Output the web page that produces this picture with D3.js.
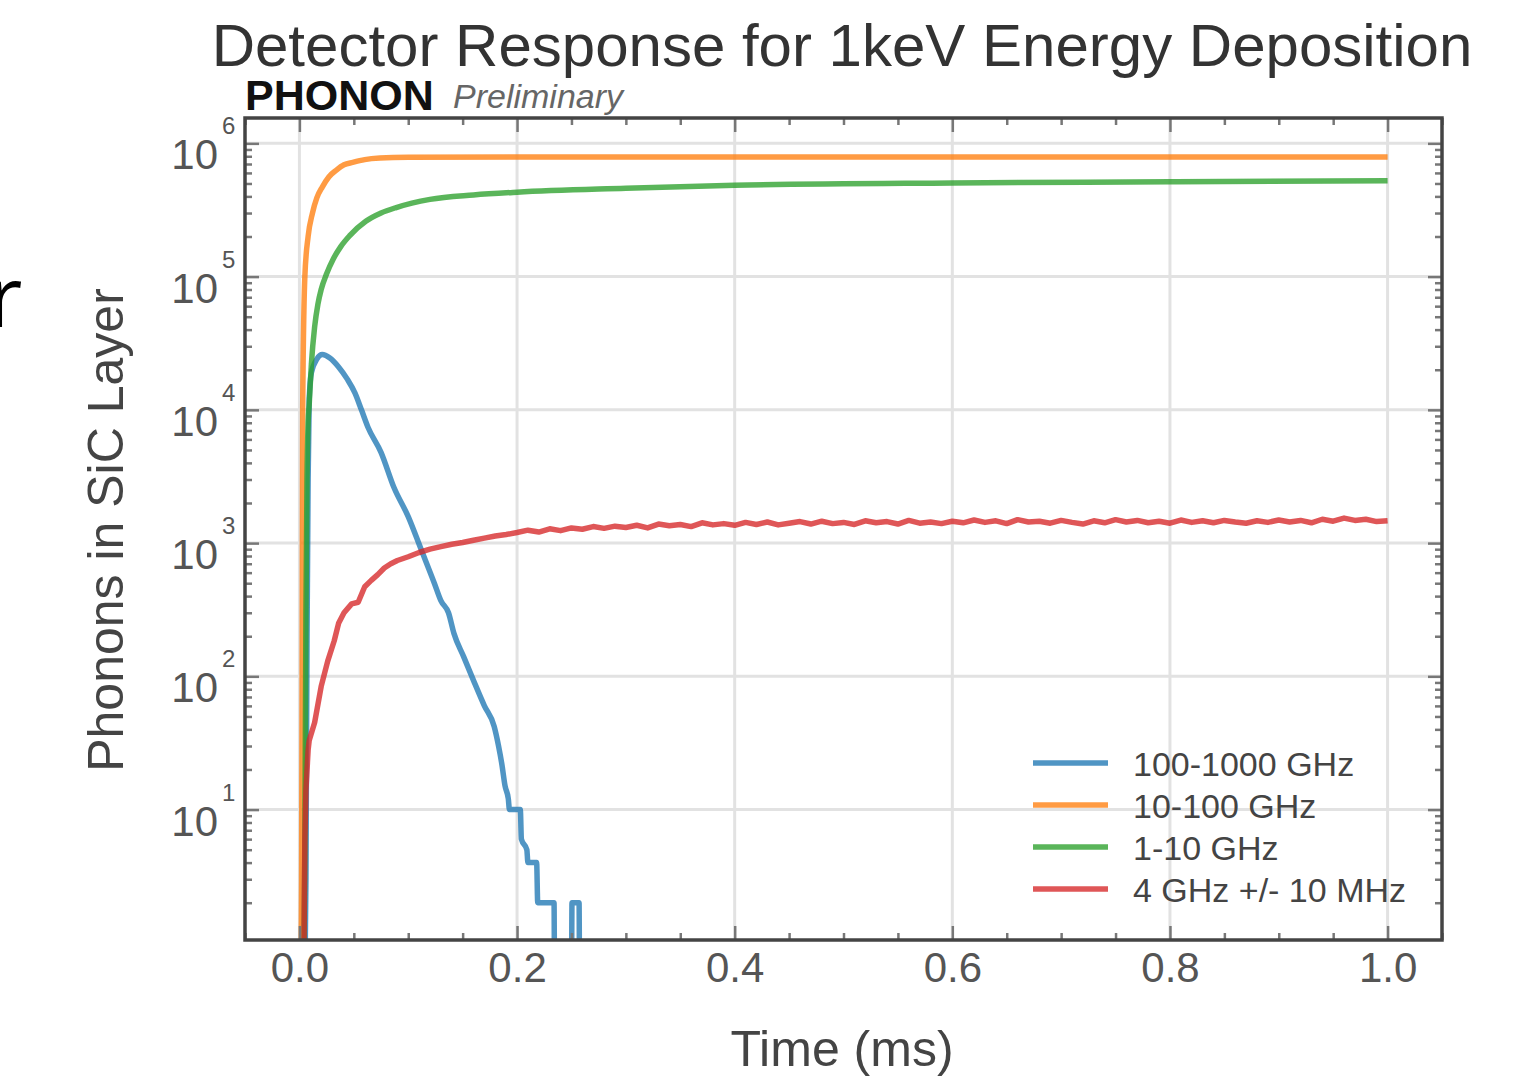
<!DOCTYPE html>
<html>
<head>
<meta charset="utf-8">
<script src="https://cdn.jsdelivr.net/npm/d3@7"></script>
<style>
  html, body { margin: 0; padding: 0; background: #fff; }
  svg { display: block; font-family: "Liberation Sans", Arial, sans-serif; }
</style>
</head>
<body>
<svg id="chart"></svg>
<script>
const W = 1522, H = 1078;

// series: [time in ms, phonon count]
const seriesNames = ["100-1000 GHz", "10-100 GHz", "1-10 GHz", "4 GHz +/- 10 MHz"];
const seriesColors = ["#1f77b4", "#ff7f0e", "#2ca02c", "#d62728"];
const xTicks = [0, 0.2, 0.4, 0.6, 0.8, 1.0];
const yDecades = [10, 100, 1000, 1e4, 1e5, 1e6];

const blue = [
  [0.005, 0.5], [0.006, 3], [0.007, 200], [0.008, 3000], [0.009, 1.2e4], [0.011, 1.9e4],
  [0.016, 2.4e4], [0.021, 2.6e4], [0.028, 2.45e4], [0.036, 2.1e4], [0.044, 1.7e4],
  [0.051, 1.34e4], [0.057, 1.0e4], [0.063, 7.4e3], [0.075, 4.8e3], [0.087, 2.6e3],
  [0.1, 1580], [0.112, 890], [0.124, 500], [0.13, 370], [0.137, 300], [0.142, 210],
  [0.151, 140], [0.161, 89], [0.17, 60], [0.179, 42], [0.183, 30], [0.186, 22],
  [0.189, 15], [0.192, 12], [0.193, 10], [0.203, 10], [0.204, 6], [0.209, 5],
  [0.21, 4], [0.218, 4], [0.219, 2], [0.234, 2], [0.2345, 0], [0.25, 0],
  [0.2505, 2], [0.257, 2], [0.2575, 0], [0.27, 0]
];

const orange = [
  [0.0015, 0.5], [0.002, 3], [0.0025, 100], [0.003, 1e4], [0.005, 1e5], [0.008, 2e5],
  [0.012, 3e5], [0.016, 3.9e5], [0.021, 4.7e5], [0.027, 5.6e5], [0.034, 6.3e5],
  [0.041, 6.9e5], [0.049, 7.2e5], [0.06, 7.55e5], [0.074, 7.75e5], [0.1, 7.85e5],
  [0.2, 7.9e5], [0.5, 7.9e5], [1.0, 7.9e5]
];

const green = [
  [0.004, 0.5], [0.005, 5], [0.006, 300], [0.007, 3000], [0.008, 8000], [0.009, 1.1e4],
  [0.011, 2.2e4], [0.014, 4.2e4], [0.017, 6.2e4], [0.02, 8.0e4], [0.025, 1.05e5],
  [0.031, 1.35e5], [0.038, 1.68e5], [0.046, 2.02e5], [0.061, 2.6e5], [0.075, 3.0e5],
  [0.089, 3.3e5], [0.12, 3.8e5], [0.16, 4.1e5], [0.2, 4.3e5], [0.3, 4.6e5],
  [0.4, 4.85e5], [0.6, 5.05e5], [0.8, 5.15e5], [1.0, 5.25e5]
];

const red = [
  [0.004, 0.5], [0.0045, 2], [0.005, 6], [0.006, 14], [0.008, 28], [0.009, 33],
  [0.014, 45], [0.02, 84], [0.026, 130], [0.032, 185], [0.036, 250], [0.041, 300],
  [0.048, 350], [0.054, 360], [0.06, 470], [0.066, 525], [0.072, 580], [0.078, 650],
  [0.084, 700], [0.09, 740], [0.1, 790], [0.11, 850], [0.12, 900], [0.13, 940],
  [0.14, 980], [0.15, 1010], [0.16, 1050], [0.17, 1090], [0.18, 1130], [0.19, 1160],
  [0.2, 1200], [0.21, 1250], [0.22, 1210], [0.23, 1280], [0.24, 1240], [0.25, 1300],
  [0.26, 1270], [0.27, 1330], [0.28, 1290], [0.29, 1340], [0.3, 1310], [0.31, 1360],
  [0.32, 1300], [0.33, 1390], [0.34, 1350], [0.35, 1380], [0.36, 1330], [0.37, 1420],
  [0.38, 1370], [0.39, 1400], [0.4, 1360], [0.41, 1430], [0.42, 1380], [0.43, 1440],
  [0.44, 1370], [0.45, 1410], [0.46, 1450], [0.47, 1390], [0.48, 1460], [0.49, 1400],
  [0.5, 1430], [0.51, 1380], [0.52, 1470], [0.53, 1420], [0.54, 1450], [0.55, 1390],
  [0.56, 1480], [0.57, 1410], [0.58, 1440], [0.59, 1400], [0.6, 1460], [0.61, 1420],
  [0.62, 1490], [0.63, 1430], [0.64, 1470], [0.65, 1400], [0.66, 1500], [0.67, 1440],
  [0.68, 1460], [0.69, 1410], [0.7, 1480], [0.71, 1430], [0.72, 1390], [0.73, 1470],
  [0.74, 1420], [0.75, 1500], [0.76, 1440], [0.77, 1480], [0.78, 1420], [0.79, 1460],
  [0.8, 1410], [0.81, 1490], [0.82, 1430], [0.83, 1470], [0.84, 1420], [0.85, 1480],
  [0.86, 1440], [0.87, 1410], [0.88, 1470], [0.89, 1430], [0.9, 1490], [0.91, 1440],
  [0.92, 1480], [0.93, 1420], [0.94, 1510], [0.95, 1460], [0.96, 1540], [0.97, 1480],
  [0.98, 1510], [0.99, 1450], [1.0, 1470]
];

const allSeries = [blue, orange, green, red];

const plotLeft = 245, plotRight = 1442, plotTop = 118, plotBottom = 940;

const svg = d3.select("#chart")
    .attr("width", W)
    .attr("height", H);

const x = d3.scaleLinear().domain([-0.05, 1.05]).range([plotLeft, plotRight]);
const y = d3.scaleLog().domain([1.05, 1.55e6]).range([plotBottom, plotTop]);

// minor tick values
const xMinor = d3.range(-0.05, 1.051, 0.05).filter(v => xTicks.every(t => Math.abs(t - v) > 1e-6));
const yMinor = [];
[1, 10, 100, 1e3, 1e4, 1e5, 1e6].forEach(d => {
    for (let k = 2; k <= 9; k++) {
        const v = k * d;
        if (v > y.domain()[0] && v < y.domain()[1]) yMinor.push(v);
    }
});

svg.append("defs").append("clipPath").attr("id", "plot-clip")
  .append("rect")
    .attr("x", plotLeft).attr("y", plotTop)
    .attr("width", plotRight - plotLeft).attr("height", plotBottom - plotTop);

// grid
const grid = svg.append("g").attr("stroke", "#e2e2e2").attr("stroke-width", 3);
grid.selectAll(".gx").data(xTicks).join("line")
    .attr("x1", d => x(d)).attr("x2", d => x(d))
    .attr("y1", plotTop).attr("y2", plotBottom);
grid.selectAll(".gy").data(yDecades).join("line")
    .attr("y1", d => y(d)).attr("y2", d => y(d))
    .attr("x1", plotLeft).attr("x2", plotRight);

// curves (red stays piecewise linear to keep its noise)
const smooth = d3.line()
    .x(d => x(d[0]))
    .y(d => y(Math.max(d[1], 0.5)))
    .curve(d3.curveMonotoneX);
const jagged = d3.line()
    .x(d => x(d[0]))
    .y(d => y(Math.max(d[1], 0.5)));

svg.append("g").attr("clip-path", "url(#plot-clip)")
  .selectAll("path").data(allSeries).join("path")
    .attr("d", (d, i) => i === 3 ? jagged(d) : smooth(d))
    .attr("fill", "none")
    .attr("stroke", (d, i) => seriesColors[i])
    .attr("stroke-opacity", 0.78)
    .attr("stroke-width", 5.5)
    .attr("stroke-linejoin", "round");

// ticks on all four sides, pointing inward
function styleAxis(g) {
    g.select(".domain").remove();
    g.selectAll(".tick line").attr("stroke", "#777").attr("stroke-width", 2.5);
    g.selectAll("text").attr("fill", "#555").attr("font-size", 42)
      .attr("font-family", "Liberation Sans, Arial, sans-serif");
}

svg.append("g").attr("transform", `translate(0,${plotBottom})`)
    .call(d3.axisBottom(x).tickValues(xTicks).tickSize(-14).tickPadding(12).tickFormat(d3.format(".1f")))
    .call(styleAxis);
svg.append("g").attr("transform", `translate(0,${plotBottom})`)
    .call(d3.axisBottom(x).tickValues(xMinor).tickSize(-7).tickFormat(""))
    .call(styleAxis);
svg.append("g").attr("transform", `translate(0,${plotTop})`)
    .call(d3.axisTop(x).tickValues(xTicks).tickSize(-14).tickFormat(""))
    .call(styleAxis);
svg.append("g").attr("transform", `translate(0,${plotTop})`)
    .call(d3.axisTop(x).tickValues(xMinor).tickSize(-7).tickFormat(""))
    .call(styleAxis);
svg.append("g").attr("transform", `translate(${plotLeft},0)`)
    .call(d3.axisLeft(y).tickValues(yDecades).tickSize(-14).tickFormat(""))
    .call(styleAxis);
svg.append("g").attr("transform", `translate(${plotLeft},0)`)
    .call(d3.axisLeft(y).tickValues(yMinor).tickSize(-7).tickFormat(""))
    .call(styleAxis);
svg.append("g").attr("transform", `translate(${plotRight},0)`)
    .call(d3.axisRight(y).tickValues(yDecades).tickSize(-14).tickFormat(""))
    .call(styleAxis);
svg.append("g").attr("transform", `translate(${plotRight},0)`)
    .call(d3.axisRight(y).tickValues(yMinor).tickSize(-7).tickFormat(""))
    .call(styleAxis);

// y tick labels as 10 with a superscript exponent
const yLab = svg.append("g").attr("fill", "#555");
yLab.selectAll(".base").data(yDecades).join("text")
    .attr("x", 218).attr("y", d => y(d) + 26)
    .attr("text-anchor", "end").attr("font-size", 42)
    .text("10");
yLab.selectAll(".exp").data(yDecades).join("text")
    .attr("x", 222).attr("y", d => y(d) - 9)
    .attr("font-size", 24)
    .text(d => Math.round(Math.log10(d)));

// frame
svg.append("rect")
    .attr("x", plotLeft).attr("y", plotTop)
    .attr("width", plotRight - plotLeft).attr("height", plotBottom - plotTop)
    .attr("fill", "none").attr("stroke", "#444").attr("stroke-width", 3.5);

// legend
const legend = svg.append("g");
seriesNames.forEach((name, i) => {
    const ly = 763 + i * 42;
    legend.append("line")
        .attr("x1", 1033).attr("x2", 1108).attr("y1", ly).attr("y2", ly)
        .attr("stroke", seriesColors[i]).attr("stroke-opacity", 0.78).attr("stroke-width", 5.5);
    legend.append("text")
        .attr("x", 1133).attr("y", ly + 13)
        .attr("font-size", 34).attr("fill", "#444")
        .text(name);
});

// titles and labels
svg.append("text")
    .attr("x", 842).attr("y", 66).attr("text-anchor", "middle")
    .attr("font-size", 60).attr("fill", "#333")
    .text("Detector Response for 1keV Energy Deposition");

svg.append("text")
    .attr("x", 245).attr("y", 110)
    .attr("font-size", 43).attr("font-weight", "bold").attr("fill", "#111")
    .text("PHONON");
svg.append("text")
    .attr("x", 453).attr("y", 108)
    .attr("font-size", 34).attr("font-style", "italic").attr("fill", "#666")
    .text("Preliminary");

svg.append("text")
    .attr("x", 842).attr("y", 1066).attr("text-anchor", "middle")
    .attr("font-size", 50).attr("fill", "#444")
    .text("Time (ms)");

svg.append("text")
    .attr("transform", "translate(123,530) rotate(-90)")
    .attr("text-anchor", "middle")
    .attr("font-size", 50).attr("fill", "#444")
    .text("Phonons in SiC Layer");

// cut-off letter at the left edge of the slide
svg.append("text")
    .attr("x", -12).attr("y", 327)
    .attr("font-family", "Open Sans, sans-serif")
    .attr("font-size", 84).attr("fill", "#000")
    .text("r");
</script>
</body>
</html>
